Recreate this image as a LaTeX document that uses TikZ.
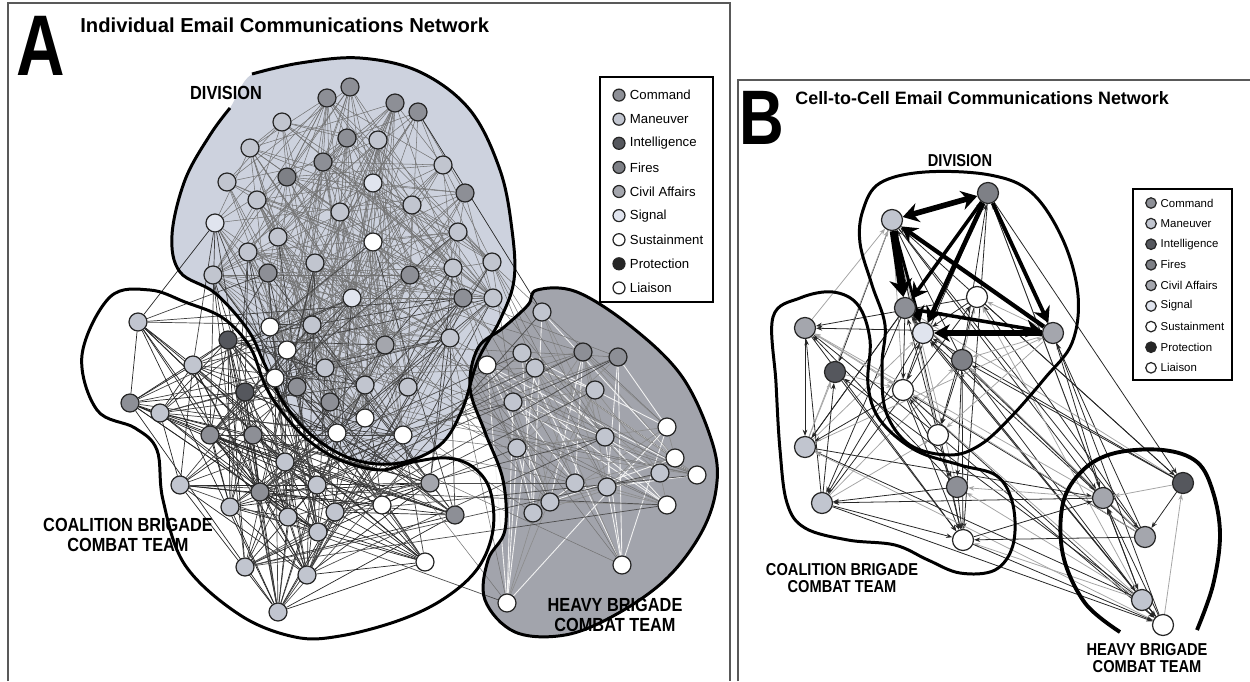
\documentclass[tikz,border=0pt]{standalone}
\usepackage{graphicx}
\usepackage{fontspec}
\setmainfont{Liberation Sans}
\usetikzlibrary{arrows.meta,positioning}

\pgfdeclarelayer{back}
\pgfdeclarelayer{links}
\pgfsetlayers{back,links,main}

\definecolor{divfill}{HTML}{CDD2DE}
\definecolor{hbctfill}{HTML}{A2A4AC}
\definecolor{cmdgray}{HTML}{8D8F96}
\definecolor{mnvgray}{HTML}{C1C5CF}
\definecolor{firegray}{HTML}{7E8086}
\definecolor{civgray}{HTML}{A4A6AD}
\definecolor{sgnlblue}{HTML}{E0E4EE}
\definecolor{intlgray}{HTML}{55575D}

\newcommand{\narrowA}[1]{\scalebox{0.86}[1]{#1}}
\newcommand{\narrowB}[1]{\scalebox{0.85}[1]{#1}}

\begin{document}
\begin{tikzpicture}[
    x=0.02cm, y=-0.02cm,
    agent/.style={circle, draw=black!85, line width=0.7pt,
        minimum size=0.36cm, inner sep=0pt},
    cell/.style={agent, minimum width=0.4cm, minimum height=0.44cm,
        ellipse/.try},
    keydot/.style={circle, draw=black!85, line width=0.7pt,
        minimum size=0.24cm, inner sep=0pt},
    keydotB/.style={keydot, minimum size=0.21cm},
    keytext/.style={anchor=west, inner sep=0pt,
        font=\fontsize{7.5}{9}\selectfont},
    keytextB/.style={keytext, font=\fontsize{6.5}{8}\selectfont},
    keybox/.style={draw=black, line width=1.4pt, fill=white, inner sep=0pt},
    panel/.style={draw=black!65, line width=0.6pt},
    zone/.style={draw=black, line width=1.7pt},
    grouplabel/.style={font=\bfseries\fontsize{10.8}{11.3}\selectfont,
        align=center, inner sep=0pt},
    grouplabelB/.style={font=\bfseries\fontsize{9.8}{9.4}\selectfont,
        align=center, inner sep=0pt},
    meshlink/.style={draw=black!55, line width=0.3pt},
    coallink/.style={draw=black!85, line width=0.4pt},
    hbctlink/.style={draw=black!45, line width=0.35pt},
    hbctwhite/.style={draw=white!90!gray, line width=0.5pt},
    celllink/.style={draw=black!85, line width=0.45pt,
        -{Stealth[length=3.5pt,width=2.6pt]}},
    cellgray/.style={celllink, draw=black!35},
    fatlink/.style={draw=black, -{Stealth[length=9pt,width=10pt]}},
]
\useasboundingbox (0,0) rectangle (1250,681);
\pgfmathsetseed{12}

% ── panel frames ──
\draw[panel] (8,681) -- (8,3) -- (730,3) -- (730,681);
\draw[panel] (738,681) -- (738,80) -- (1250,80);

% ── titles ──
\node[font=\bfseries\fontsize{49}{49}\selectfont, inner sep=0pt] (tagA)
    at (41,46) {\scalebox{0.78}[1]{A}};
\node[anchor=west, font=\bfseries\fontsize{11.5}{12}\selectfont,
    inner sep=0pt] (titleA) at (80,25)
    {Individual Email Communications Network};
\node[font=\bfseries\fontsize{44}{44}\selectfont, inner sep=0pt] (tagB)
    at (762,118) {\scalebox{0.8}[1]{B}};
\node[anchor=west, font=\bfseries\fontsize{10.2}{11}\selectfont,
    inner sep=0pt] (titleB) at (795,98.5)
    {Cell-to-Cell Email Communications Network};

% ── panel A: regions ──
\begin{pgfonlayer}{back}
\fill[divfill] plot[smooth cycle, tension=0.6] coordinates {
    (252,74) (300,63) (360,58) (420,72) (470,110) (500,170) (512,230)
    (514,280) (500,320) (478,360) (462,410) (440,445) (400,463) (355,460)
    (315,438) (285,405) (265,365) (248,330) (215,293) (180,272) (172,235)
    (185,180) (210,135) (230,108)};
\fill[hbctfill] plot[smooth cycle, tension=0.6] coordinates {
    (537,290) (577,292) (633,328) (683,378) (713,445) (716,490) (700,535)
    (665,580) (615,615) (565,635) (515,632) (485,600) (488,560) (505,530)
    (503,480) (485,432) (470,388) (478,348) (503,328) (528,305)};
\end{pgfonlayer}

% ── panel A: division ──
\foreach \n/\x/\y/\f in {
    d1/350/87/cmdgray, d2/327/98/cmdgray, d3/395/103/cmdgray,
    d4/418/112/cmdgray, d5/282/122/mnvgray, d6/347/138/cmdgray,
    d7/378/140/mnvgray, d8/250/148/mnvgray, d9/323/162/cmdgray,
    d10/287/177/firegray, d11/443/165/mnvgray, d12/373/183/sgnlblue,
    d13/227/182/mnvgray, d14/257/200/mnvgray, d15/465/193/cmdgray,
    d16/340/212/mnvgray, d17/412/205/mnvgray, d18/215/223/sgnlblue,
    d19/278/237/mnvgray, d20/373/242/white, d21/458/232/mnvgray,
    d22/248/252/mnvgray, d23/315/263/mnvgray, d24/268/273/cmdgray,
    d25/410/275/cmdgray, d26/453/268/mnvgray, d27/492/262/mnvgray,
    d28/213/275/mnvgray, d29/352/298/sgnlblue, d30/463/298/cmdgray,
    d31/493/298/mnvgray, d32/270/327/white, d33/312/325/mnvgray,
    d34/450/338/mnvgray, d35/287/350/white, d36/385/345/civgray,
    d37/275/378/white, d38/297/387/cmdgray, d39/325/368/mnvgray,
    d40/330/402/cmdgray, d41/365/385/mnvgray, d42/408/387/mnvgray,
    d43/365/418/white, d44/337/433/white, d45/403/435/white}
    {\node[agent, fill=\f] (\n) at (\x,\y) {};}

% ── panel A: coalition brigade ──
\foreach \n/\x/\y/\f in {
    c1/138/322/mnvgray, c2/228/340/intlgray, c3/193/365/mnvgray,
    c4/245/392/intlgray, c5/130/403/cmdgray, c6/160/413/mnvgray,
    c7/210/435/cmdgray, c8/253/435/cmdgray, c9/285/462/mnvgray,
    c10/180/485/mnvgray, c11/260/492/cmdgray, c12/317/485/mnvgray,
    c13/230/507/mnvgray, c14/288/517/mnvgray, c15/335/512/mnvgray,
    c16/318/532/mnvgray, c17/382/505/white, c18/430/483/civgray,
    c19/455/515/cmdgray, c20/425/562/white, c21/245/567/mnvgray,
    c22/307/575/mnvgray, c23/278/612/mnvgray}
    {\node[agent, fill=\f] (\n) at (\x,\y) {};}

% ── panel A: heavy brigade ──
\foreach \n/\x/\y/\f in {
    h1/542/312/mnvgray, h2/583/352/cmdgray, h3/618/357/cmdgray,
    h4/522/353/mnvgray, h5/487/365/white, h6/535/368/mnvgray,
    h7/595/390/mnvgray, h8/513/402/mnvgray, h9/667/427/white,
    h10/605/437/mnvgray, h11/517/448/mnvgray, h12/675/458/white,
    h13/697/475/white, h14/660/473/mnvgray, h15/575/483/mnvgray,
    h16/607/487/mnvgray, h17/667/505/white, h18/550/502/mnvgray,
    h19/533/513/mnvgray, h20/622/565/white, h21/507/603/white}
    {\node[agent, fill=\f] (\n) at (\x,\y) {};}

% ── panel A: links ──
\begin{pgfonlayer}{links}
\foreach \i in {1,...,44}{
    \foreach \j in {2,...,45}{
        \ifnum\j>\i
            \pgfmathtruncatemacro\pick{100*rnd}
            \ifnum\pick<33 \draw[meshlink] (d\i) -- (d\j); \fi
        \fi}}
\foreach \i in {1,...,22}{
    \foreach \j in {2,...,23}{
        \ifnum\j>\i
            \pgfmathtruncatemacro\pick{100*rnd}
            \ifnum\pick<42 \draw[coallink] (c\i) -- (c\j); \fi
        \fi}}
\foreach \i in {1,...,23}{
    \foreach \j in {18,...,45}{
        \pgfmathtruncatemacro\pick{100*rnd}
        \ifnum\pick<17 \draw[coallink, draw=black!75] (c\i) -- (d\j); \fi}}
\foreach \i in {1,...,20}{
    \foreach \j in {2,...,21}{
        \ifnum\j>\i
            \pgfmathtruncatemacro\pick{100*rnd}
            \ifnum\pick<12 \draw[hbctwhite] (h\i) -- (h\j);
            \else\ifnum\pick<34 \draw[hbctlink] (h\i) -- (h\j); \fi\fi
        \fi}}
\foreach \i in {1,...,21}{
    \foreach \j in {20,...,45}{
        \pgfmathtruncatemacro\pick{100*rnd}
        \ifnum\pick<7 \draw[meshlink] (h\i) -- (d\j); \fi}}
\foreach \i in {1,...,21}{
    \foreach \j in {9,...,23}{
        \pgfmathtruncatemacro\pick{100*rnd}
        \ifnum\pick<7 \draw[coallink, draw=black!70] (h\i) -- (c\j); \fi}}
\draw[coallink] (d4) -- (h1);
\draw[coallink] (d18) -- (c1);
\draw[coallink] (c1) -- (c3);
\draw[coallink] (c5) -- (c3);

% region outlines
\draw[zone] plot[smooth, tension=0.6] coordinates {
    (252,74) (300,63) (360,58) (420,72) (470,110) (500,170) (512,230)
    (514,280) (500,320) (478,360) (462,410) (440,445) (400,463) (355,460)
    (315,438) (285,405) (265,365) (248,330) (215,293) (180,272) (172,235)
    (185,180) (210,135) (230,108)};
\draw[zone] plot[smooth cycle, tension=0.6] coordinates {
    (110,297) (150,290) (185,302) (223,318) (250,347) (265,385) (282,412)
    (308,440) (340,460) (380,470) (413,462) (447,458) (473,467) (490,490)
    (493,530) (478,568) (445,598) (400,620) (340,636) (295,637) (240,615)
    (185,565) (163,500) (157,450) (135,428) (97,410) (82,355)};
\draw[zone] plot[smooth cycle, tension=0.6] coordinates {
    (537,290) (577,292) (633,328) (683,378) (713,445) (716,490) (700,535)
    (665,580) (615,615) (565,635) (515,632) (485,600) (488,560) (505,530)
    (503,480) (485,432) (470,388) (478,348) (503,328) (528,305)};
\end{pgfonlayer}

% ── panel A: group labels ──
\node[grouplabel] (divA) at (226,93) {\narrowA{DIVISION}};
\node[grouplabel] (coalA) at (128,535)
    {\narrowA{COALITION BRIGADE}\\\narrowA{COMBAT TEAM}};
\node[grouplabel] (hbctA) at (615,615)
    {\narrowA{HEAVY BRIGADE}\\\narrowA{COMBAT TEAM}};

% ── panel A: key ──
\node[keybox, minimum width=2.26cm, minimum height=4.5cm] (keyA)
    at (656.5,189.5) {};
\foreach \f/\t [count=\k] in {cmdgray/Command, mnvgray/Maneuver,
    intlgray/Intelligence, firegray/Fires, civgray/Civil Affairs,
    sgnlblue/Signal, white/Sustainment, black!85/Protection, white/Liaison}{
    \node[keydot, fill=\f] (ka\k) at (619,{71+24.1*\k}) {};
    \node[keytext, right=0.08cm of ka\k] (ta\k) {\t};
}

% ── panel B: cells ──
\foreach \n/\x/\y/\f in {
    bd1/988/193/firegray, bd2/892/220/mnvgray, bd3/905/308/cmdgray,
    bd4/923/333/sgnlblue, bd5/977/297/white, bd6/962/360/firegray,
    bd7/903/390/white, bd8/938/435/white, bd9/1053/333/civgray,
    bc1/805/328/civgray, bc2/835/372/intlgray, bc3/805/447/mnvgray,
    bc4/822/503/mnvgray, bc5/957/487/cmdgray, bc6/963/540/white,
    bh1/1103/498/civgray, bh2/1183/483/intlgray, bh3/1145/537/civgray,
    bh4/1142/600/mnvgray, bh5/1163/625/white}
    {\node[agent, minimum size=0.42cm, fill=\f] (\n) at (\x,\y) {};}

\def\cellnames{bd1,bd2,bd3,bd4,bd5,bd6,bd7,bd8,bd9,bc1,bc2,bc3,bc4,bc5,bc6,%
    bh1,bh2,bh3,bh4,bh5}

\begin{pgfonlayer}{links}
\foreach \a [count=\i] in \cellnames{
    \foreach \b [count=\j] in \cellnames{
        \ifnum\j>\i
            \pgfmathtruncatemacro\pick{100*rnd}
            \ifnum\pick<18 \draw[cellgray] (\b) -- (\a);
            \else\ifnum\pick<40 \draw[celllink] (\a) -- (\b);
            \else\ifnum\pick<58 \draw[celllink] (\b) -- (\a);
            \fi\fi\fi
        \fi}}
% heavy traffic inside the division
\draw[fatlink, line width=3.2pt,
    {Stealth[length=9pt,width=11pt]}-{Stealth[length=9pt,width=11pt]}]
    (bd2) -- (bd1);
\draw[fatlink, line width=4.5pt, -{Stealth[length=10pt,width=13pt]}]
    (bd2) -- (bd3);
\draw[fatlink, line width=2.2pt] (bd1) -- (bd9);
\draw[fatlink, line width=2.6pt] (bd1) -- (bd4);
\draw[fatlink, line width=2pt] (bd1) -- (bd3);
\draw[fatlink, line width=3pt] (bd9) -- (bd4);
\draw[fatlink, line width=2.4pt] (bd9) -- (bd2);
\draw[fatlink, line width=2pt] (bd3) -- (bd9);
\draw[fatlink, line width=1.6pt] (bd2) -- (bd4);

% region outlines
\draw[zone] plot[smooth cycle, tension=0.6] coordinates {
    (880,183) (925,172) (990,175) (1032,193) (1063,240) (1078,295)
    (1072,343) (1045,378) (1010,418) (980,445) (950,455) (910,445)
    (886,412) (882,365) (885,325) (872,285) (860,243) (863,210)};
\draw[zone] plot[smooth cycle, tension=0.6] coordinates {
    (773,317) (800,298) (833,292) (858,305) (870,340) (868,385) (880,420)
    (915,450) (960,465) (997,476) (1013,505) (1013,545) (995,570)
    (960,573) (928,560) (895,545) (848,540) (805,528) (787,503) (780,450)
    (776,383)};
\draw[zone, line width=2.2pt] plot[smooth, tension=0.6] coordinates {
    (1120,632) (1085,603) (1063,555) (1063,503) (1083,470) (1115,453)
    (1163,450) (1197,462) (1213,492) (1220,535) (1213,585) (1197,630)};
\end{pgfonlayer}

% ── panel B: group labels ──
\node[grouplabelB] (divB) at (960,161) {\narrowB{DIVISION}};
\node[grouplabelB] (coalB) at (842,578)
    {\narrowB{COALITION BRIGADE}\\\narrowB{COMBAT TEAM}};
\node[grouplabelB] (hbctB) at (1147,658)
    {\narrowB{HEAVY BRIGADE}\\\narrowB{COMBAT TEAM}};

% ── panel B: key ──
\node[keybox, minimum width=1.98cm, minimum height=3.82cm] (keyB)
    at (1182.5,284.5) {};
\foreach \f/\t [count=\k] in {cmdgray/Command, mnvgray/Maneuver,
    intlgray/Intelligence, firegray/Fires, civgray/Civil Affairs,
    sgnlblue/Signal, white/Sustainment, black!85/Protection, white/Liaison}{
    \node[keydotB, fill=\f] (kb\k) at (1151,{182.4+20.6*\k}) {};
    \node[keytextB, right=0.07cm of kb\k] (tb\k) {\t};
}

\end{tikzpicture}
\end{document}
